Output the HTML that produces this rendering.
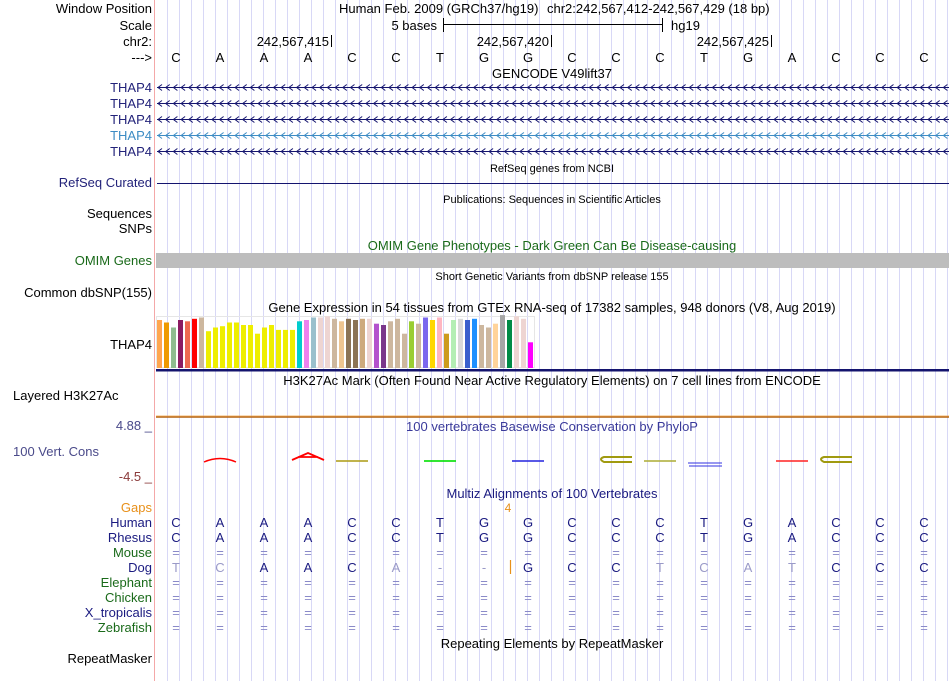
<!DOCTYPE html>
<html><head><meta charset="utf-8"><style>
html,body{margin:0;padding:0;background:#fff;}
svg{display:block;font-family:"Liberation Sans",sans-serif;}
</style></head><body>
<svg id="s" width="950" height="681" viewBox="0 0 950 681">
<g id="grid"></g>
<line x1="154.5" y1="0" x2="154.5" y2="681" stroke="#f4a8a8" stroke-width="1"/>
<g font-size="13" text-anchor="end" fill="#000">
<text x="152" y="13">Window Position</text>
<text x="152" y="30">Scale</text>
<text x="152" y="46">chr2:</text>
<text x="152" y="62">---&gt;</text>
<text x="152" y="92" fill="#23237a">THAP4</text>
<text x="152" y="108" fill="#23237a">THAP4</text>
<text x="152" y="124" fill="#23237a">THAP4</text>
<text x="152" y="140" fill="#3d8cc4">THAP4</text>
<text x="152" y="156" fill="#23237a">THAP4</text>
<text x="152" y="187" fill="#23237a">RefSeq Curated</text>
<text x="152" y="218">Sequences</text>
<text x="152" y="233">SNPs</text>
<text x="152" y="265" fill="#1a6a1a">OMIM Genes</text>
<text x="152" y="297">Common dbSNP(155)</text>
<text x="152" y="349">THAP4</text>
<text x="152" y="430" fill="#4a4a8a">4.88 _</text>
<text x="99" y="456" fill="#4a4a8a">100 Vert. Cons</text>
<text x="152" y="481" fill="#8b3a3a">-4.5 _</text>
<text x="152" y="512" fill="#e8901a">Gaps</text>
<text x="152" y="527" fill="#1a1a80">Human</text>
<text x="152" y="542" fill="#1a1a80">Rhesus</text>
<text x="152" y="557" fill="#1a6a1a">Mouse</text>
<text x="152" y="572" fill="#1a1a80">Dog</text>
<text x="152" y="587" fill="#1a6a1a">Elephant</text>
<text x="152" y="602" fill="#1a6a1a">Chicken</text>
<text x="152" y="617" fill="#1a1a80">X_tropicalis</text>
<text x="152" y="632" fill="#1a6a1a">Zebrafish</text>
<text x="152" y="663">RepeatMasker</text>
</g>
<text x="13" y="400" font-size="13">Layered H3K27Ac</text>
<g font-size="13" fill="#000">
<text x="339" y="13">Human Feb. 2009 (GRCh37/hg19)</text>
<text x="547" y="13">chr2:242,567,412-242,567,429 (18 bp)</text>
<text x="437" y="30" text-anchor="end">5 bases</text>
<line x1="443" y1="24.5" x2="662" y2="24.5" stroke="#000"/>
<line x1="443.5" y1="18" x2="443.5" y2="32" stroke="#000"/>
<line x1="662.5" y1="18" x2="662.5" y2="32" stroke="#000"/>
<text x="671" y="30">hg19</text>
<text x="329" y="46" text-anchor="end">242,567,415</text>
<line x1="331.5" y1="35" x2="331.5" y2="47" stroke="#000"/>
<text x="549" y="46" text-anchor="end">242,567,420</text>
<line x1="551.5" y1="35" x2="551.5" y2="47" stroke="#000"/>
<text x="769" y="46" text-anchor="end">242,567,425</text>
<line x1="771.5" y1="35" x2="771.5" y2="47" stroke="#000"/>
</g>
<g id="seq" font-size="13" text-anchor="middle"></g>
<g text-anchor="middle">
<text x="552" y="78" font-size="13">GENCODE V49lift37</text>
<text x="552" y="172" font-size="11">RefSeq genes from NCBI</text>
<text x="552" y="203" font-size="11">Publications: Sequences in Scientific Articles</text>
<text x="552" y="250" font-size="13" fill="#1a6a1a">OMIM Gene Phenotypes - Dark Green Can Be Disease-causing</text>
<text x="552" y="280" font-size="11">Short Genetic Variants from dbSNP release 155</text>
<text x="552" y="312" font-size="13">Gene Expression in 54 tissues from GTEx RNA-seq of 17382 samples, 948 donors (V8, Aug 2019)</text>
<text x="552" y="385" font-size="13">H3K27Ac Mark (Often Found Near Active Regulatory Elements) on 7 cell lines from ENCODE</text>
<text x="552" y="431" font-size="13" fill="#3a3a9a">100 vertebrates Basewise Conservation by PhyloP</text>
<text x="552" y="498" font-size="13" fill="#1a1a80">Multiz Alignments of 100 Vertebrates</text>
<text x="508" y="512" font-size="12" fill="#e8901a">4</text>
<text x="552" y="648" font-size="13">Repeating Elements by RepeatMasker</text>
</g>
<g id="genes"></g>
<line x1="157" y1="183.5" x2="949" y2="183.5" stroke="#14146e"/>
<rect x="156" y="253" width="793" height="15" fill="#bdbdbd"/>
<rect x="156.5" y="316.5" width="378" height="51" fill="none" stroke="#e6e6e6"/>
<g id="bars"></g>
<rect x="156" y="369" width="793" height="2.5" fill="#14146e"/>
<line x1="156" y1="417" x2="949" y2="417" stroke="#b06010" stroke-width="1.5"/>
<line x1="156" y1="416" x2="949" y2="416" stroke="#f0a040" stroke-width="0.8"/>
<g id="cons"></g>
<line x1="510.5" y1="560" x2="510.5" y2="574" stroke="#e8901a" stroke-width="1.2"/>
<g id="aln" font-size="13" text-anchor="middle"></g>
</svg>
<script>
const NS="http://www.w3.org/2000/svg";
const seqHuman="CAAACCTGGCCCTGACCC".split("");
const seqDog="TCAACA--GCCTCATCCC".split("");
const dogLight=[1,1,0,0,0,1,1,1,0,0,0,1,1,1,1,0,0,0];
const gtexValues=[48,45.5,40.5,48,46.7,49.2,50.5,36.8,40.5,41.8,45.5,45.5,43,43,34.3,40.5,43,38.1,38.1,38.1,46.7,48,50.5,50.5,51.7,49.2,46.7,49.2,48,49.2,49.2,44.3,43,46.7,49.2,34.3,46.7,44.3,50.5,48,50.5,34.3,48,49.2,48,49.2,43,40.5,44.3,52.9,48,51.7,49.2,25.7];
const gtexColors=["#FFA54F","#EE9A00","#8FBC8F","#8B1C62","#EE6A50","#FF0000","#CDB79E","#EEEE00","#EEEE00","#EEEE00","#EEEE00","#EEEE00","#EEEE00","#EEEE00","#EEEE00","#EEEE00","#EEEE00","#EEEE00","#EEEE00","#EEEE00","#00CDCD","#EE82EE","#9AC0CD","#EED5D2","#EED5D2","#CDB79E","#EEC591","#8B7355","#8B7355","#CDAA7D","#EED5D2","#B452CD","#7A378B","#CDB79E","#CDB79E","#CDB79E","#9ACD32","#CDB79E","#7B68EE","#FFD700","#FFB6C1","#CD9B1D","#B4EEB4","#D9D9D9","#3A5FCD","#1E90FF","#CDB79E","#CDB79E","#FFD39B","#A6A6A6","#008B45","#EED5D2","#EED5D2","#FF00FF"];
const consPos=[2,4,5,7,9,11,12,13,15,16];
const consColors=["#ff0000","#ff0000","#b0a020","#00e000","#3030e0","#a09a10","#b0b040","#3030e0","#ff3030","#a09a10"];
const baseX=i=>176+44*i;
const barX=i=>157+7*i;
const barY=v=>368-v;
function el(t,a,p){const e=document.createElementNS(NS,t);for(const k in a)e.setAttribute(k,a[k]);p.appendChild(e);return e;}
const grid=document.getElementById('grid');
for(let x=167;x<950;x+=12){const l=el('line',{x1:x+.5,y1:0,x2:x+.5,y2:681,stroke:'#d8d8f6'},grid);

}
const seq=document.getElementById('seq');
seqHuman.forEach((b,i)=>{const t=el('text',{x:baseX(i),y:62},seq);t.textContent=b;

});
const genes=document.getElementById('genes');
const gy=[87,103,119,135,151];
gy.forEach((y,r)=>{const c=r==3?'#3d8cc4':'#14146e';
const g=el('g',{},genes);


el('line',{x1:157,y1:y+.5,x2:949,y2:y+.5,stroke:c},g);
let d='';for(let x=158;x<946;x+=7.7){d+=`M${x+4},${y-2.5}L${x},${y+.5}L${x+4},${y+3.5}`;}
el('path',{d:d,stroke:c,fill:'none','stroke-width':1},g);});
const bars=document.getElementById('bars');
gtexValues.forEach((v,i)=>{const r=el('rect',{x:barX(i),y:barY(v),width:5,height:v,fill:gtexColors[i]},bars);

});
const cons=document.getElementById('cons');
consPos.forEach((p,k)=>{const x=baseX(p-1),c=consColors[k];
let m;
if(k==0) m=el('path',{d:`M${x-16},462Q${x},455 ${x+16},462`,stroke:c,fill:'none','stroke-width':1.5},cons);
else if(k==1) m=el('path',{d:`M${x-16},460L${x},453L${x+16},460M${x-10},457H${x+10}`,stroke:c,fill:'none','stroke-width':1.8},cons);
else if(k==5||k==9) m=el('path',{d:`M${x+16},457H${x-12}Q${x-18},459 ${x-12},462H${x+16}`,stroke:c,fill:'none','stroke-width':2},cons);
else if(k==7) m=el('path',{d:`M${x-16},463H${x+18}M${x-15},466H${x+18}`,stroke:c,fill:'none','stroke-width':1},cons);
else m=el('rect',{x:x-16,y:460,width:32,height:2,fill:c,opacity:.8},cons);

});
const aln=document.getElementById('aln');
const rows=[527,542,557,572,587,602,617,632];
rows.forEach((y,r)=>{for(let i=0;i<18;i++){let ch,col='#1a1a80';
if(r<2){ch=seqHuman[i];}
else if(r==3){ch=seqDog[i];if(dogLight[i])col='#9a9ac8';}
else{ch='=';col='#8a8ac8';}
const t=el('text',{x:baseX(i),y:y,fill:col},aln);t.textContent=ch;

}});
</script>
</body></html>
